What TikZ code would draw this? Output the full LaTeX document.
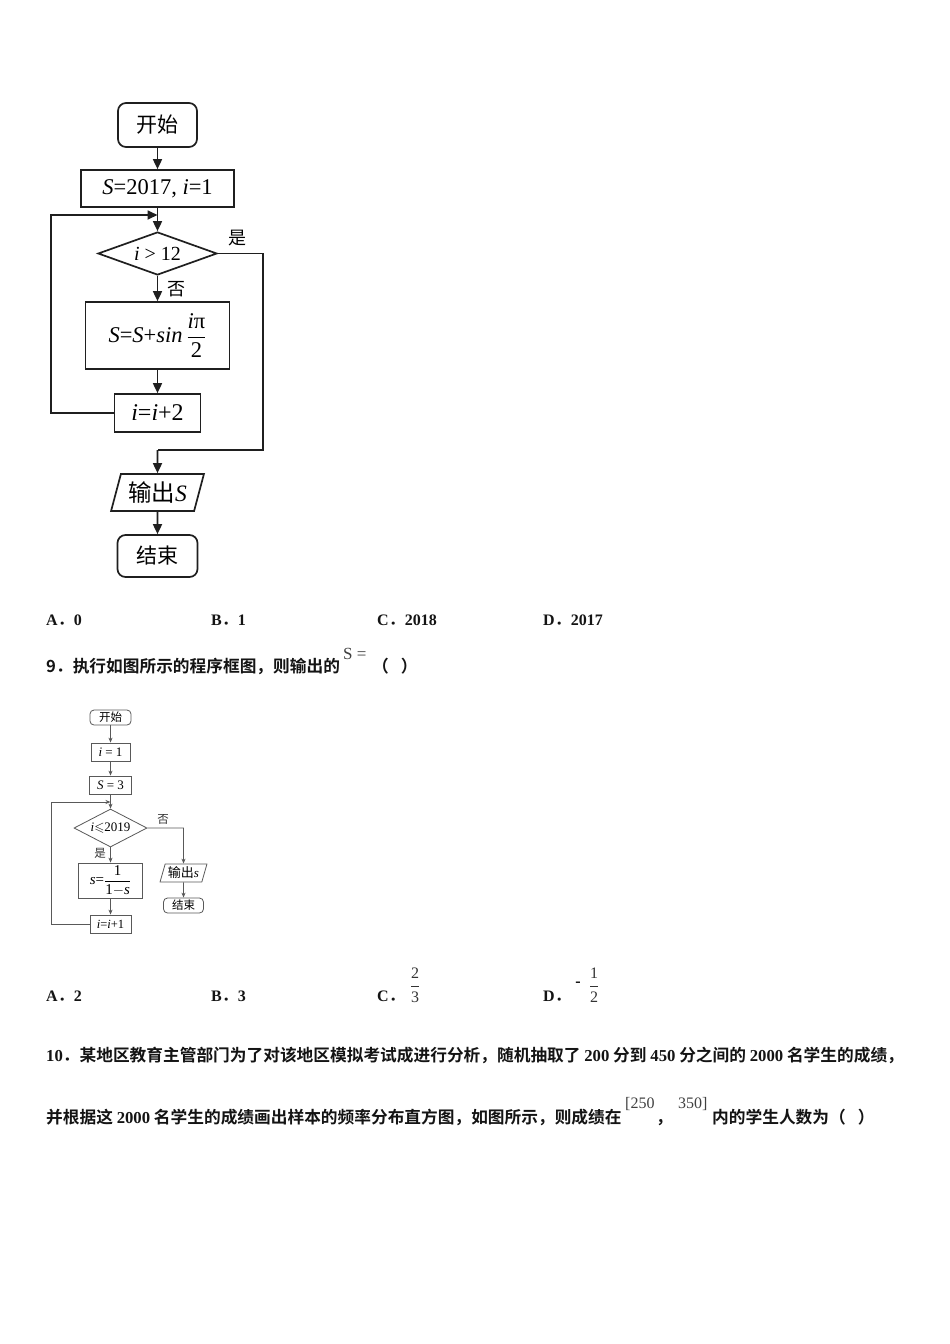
\documentclass[tikz,border=0pt]{standalone}
\usepackage{amssymb}
\usepackage{fontspec}
\setmainfont{Liberation Serif}
\newfontfamily\cjk{Noto Sans CJK SC}[BoldFont={Noto Sans CJK SC Bold}]
\usetikzlibrary{shapes.geometric,arrows.meta}
\newcommand{\fs}[1]{\fontsize{#1}{#1}\selectfont}
\newcommand{\latb}[1]{{\rmfamily\bfseries #1}}
\newcommand{\vi}[1]{\textit{#1}}
\newcommand{\tfrac}[2]{$\displaystyle\frac{\mbox{#1}}{\mbox{#2}}$}
\tikzset{
  ln1/.style={draw=black!88, line width=1.7pt},
  ar1/.style={ln1, -{Triangle[length=10pt,width=9pt]}},
  bx1/.style={ln1, rectangle, inner sep=0pt, font=\fs{21}},
  rd1/.style={bx1, rounded corners=8pt},
  ln2/.style={draw=black!65, line width=0.8pt},
  ar2/.style={ln2, -{Stealth[length=5pt,width=4pt]}},
  bx2/.style={ln2, rectangle, inner sep=0pt, font=\fs{13}},
  rd2/.style={bx2, rounded corners=4pt, font=\fs{11.5}},
  txt/.style={inner sep=0pt, anchor=base west, text=black!92},
  opt/.style={txt, font=\fs{16}\bfseries},
  cjkline/.style={txt, font=\fs{16.7}\cjk\bfseries},
}
\begin{document}
\begin{tikzpicture}[x=1pt,y=-1pt]
\fill[white] (0,0) rectangle (950,1344);
\useasboundingbox (0,0) rectangle (950,1344);

% ---------- flowchart 1 ----------
\node[rd1, minimum width=79pt, minimum height=44pt] (st1) at (157.5,125) {\cjk 开始};
\node[bx1, minimum width=153pt, minimum height=37pt, font=\fs{22.5}] (init1) at (157.5,188.5) {\vi{S}=2017, \vi{i}=1};
\node[ln1, diamond, aspect=2.8, inner sep=0pt, minimum width=119pt, minimum height=43pt, font=\fs{20}] (dia1) at (157.5,253.5) {\vi{i} > 12};
\node[bx1, minimum width=144pt, minimum height=67pt, font=\fs{22.5}] (body1) at (157.5,335.5) {\vi{S}=\vi{S}+\vi{sin}\,\tfrac{\vi{i}π}{2}};
\node[bx1, minimum width=86pt, minimum height=38pt, font=\fs{24}] (inc1) at (157.5,413) {\vi{i}=\vi{i}+2};
\node[ln1, trapezium, trapezium left angle=70, trapezium right angle=110, trapezium stretches=true, inner sep=0pt, minimum width=93pt, minimum height=37pt, font=\fs{23.5}] (out1) at (157.5,492.5) {{\cjk 输出}\vi{S}};
\node[rd1, minimum width=80pt, minimum height=42pt] (end1) at (157.5,556) {\cjk 结束};
\node[inner sep=0pt, font=\fs{18}\cjk] (yes1) at (237,238) {是};
\node[inner sep=0pt, font=\fs{18}\cjk] (no1) at (176,289) {否};

\coordinate (lp1a) at (51,413);
\coordinate (lp1b) at (51,215);
\coordinate (jn1) at (157.5,215);
\coordinate (yb1a) at (263,253.5);
\coordinate (yb1b) at (263,450);
\coordinate (jn2) at (157.5,450);

\draw[ar1] (st1) -- (init1);
\draw[ar1] (init1) -- (dia1);
\draw[ar1] (dia1) -- (body1);
\draw[ar1] (body1) -- (inc1);
\draw[ar1] (inc1.west) -- (lp1a) -- (lp1b) -- (jn1);
\draw[ln1] (dia1.east) -- (yb1a) -- (yb1b) -- (jn2);
\draw[ar1] (jn2) -- (out1.north);
\draw[ar1] (out1) -- (end1);

% ---------- options 8 ----------
\node[opt] (a8) at (46,625) {A{\cjk\bfseries ．}0};
\node[opt] (b8) at (211,625) {B{\cjk\bfseries ．}1};
\node[opt] (c8) at (377,625) {C{\cjk\bfseries ．}2018};
\node[opt] (d8) at (543,625) {D{\cjk\bfseries ．}2017};

% ---------- question 9 ----------
\node[cjkline] (q9) at (46,672) {9．执行如图所示的程序框图，则输出的};
\node[txt, font=\fs{17}, text=black!75] (q9s) at (343,659) {S =};
\node[cjkline] (q9p) at (372,672) {（\hspace{12pt}）};

% ---------- flowchart 2 ----------
\node[rd2, minimum width=41pt, minimum height=15pt] (st2) at (110.5,717.5) {\cjk 开始};
\node[bx2, minimum width=39pt, minimum height=18pt] (a2) at (110.5,752) {\vi{i} = 1};
\node[bx2, minimum width=42pt, minimum height=18pt] (b2) at (110.5,785) {\vi{S} = 3};
\node[ln2, diamond, aspect=2, inner sep=0pt, minimum width=73pt, minimum height=38pt, font=\fs{13}] (dia2) at (110.5,828) {\vi{i}$\leqslant$2019};
\node[bx2, minimum width=64pt, minimum height=35pt, font=\fs{15}] (body2) at (110.5,880.5) {\vi{s}=\tfrac{1}{1$-$\vi{s}}};
\node[bx2, minimum width=41pt, minimum height=18pt, font=\fs{12.5}] (inc2) at (110.5,924) {\vi{i}=\vi{i}+1};
\node[ln2, trapezium, trapezium left angle=70, trapezium right angle=110, trapezium stretches=true, inner sep=0pt, minimum width=47pt, minimum height=18pt, font=\fs{13}] (out2) at (183.5,873) {{\cjk 输出}\vi{s}};
\node[rd2, minimum width=40pt, minimum height=15pt] (end2) at (183.5,905.5) {\cjk 结束};
\node[inner sep=0pt, font=\fs{11.5}\cjk, text=black!80] (no2) at (163,819) {否};
\node[inner sep=0pt, font=\fs{11.5}\cjk, text=black!80] (yes2) at (100,853) {是};

\coordinate (lp2a) at (51,924);
\coordinate (lp2b) at (51,802);
\coordinate (jn3) at (110.5,802);
\coordinate (nb2) at (183.5,828);

\draw[ar2] (st2) -- (a2);
\draw[ar2] (a2) -- (b2);
\draw[ar2] (b2) -- (dia2);
\draw[ar2] (dia2) -- (body2);
\draw[ar2] (body2) -- (inc2);
\draw[ar2] (inc2.west) -- (lp2a) -- (lp2b) -- (jn3);
\draw[ar2] (dia2.east) -- (nb2) -- (out2.north);
\draw[ar2] (out2) -- (end2);

% ---------- options 9 ----------
\node[opt] (a9) at (46,1001) {A{\cjk\bfseries ．}2};
\node[opt] (b9) at (211,1001) {B{\cjk\bfseries ．}3};
\node[opt] (c9) at (377,1001) {C{\cjk\bfseries ．}};
\node[inner sep=0pt, font=\fs{16}, text=black!80] (c9f) at (415,985) {\tfrac{2}{3}};
\node[opt] (d9) at (543,1001) {D{\cjk\bfseries ．}};
\node[inner sep=0pt, font=\fs{16}\bfseries] (d9m) at (578,984) {-};
\node[inner sep=0pt, font=\fs{16}, text=black!80] (d9f) at (594,985) {\tfrac{1}{2}};

% ---------- question 10 ----------
\node[cjkline] (q10a) at (46,1061) {\latb{10}．某地区教育主管部门为了对该地区模拟考试成进行分析，随机抽取了 \latb{200} 分到 \latb{450} 分之间的 \latb{2000} 名学生的成绩，};
\node[cjkline] (q10b) at (46,1123) {并根据这 \latb{2000} 名学生的成绩画出样本的频率分布直方图，如图所示，则成绩在};
\node[txt, font=\fs{16}, text=black!75] (q10c) at (625,1108) {[250};
\node[cjkline] (q10d) at (656,1123) {，};
\node[txt, font=\fs{16}, text=black!75] (q10e) at (678,1108) {350]};
\node[cjkline] (q10f) at (712,1123) {内的学生人数为（\hspace{12pt}）};
\end{tikzpicture}
\end{document}
